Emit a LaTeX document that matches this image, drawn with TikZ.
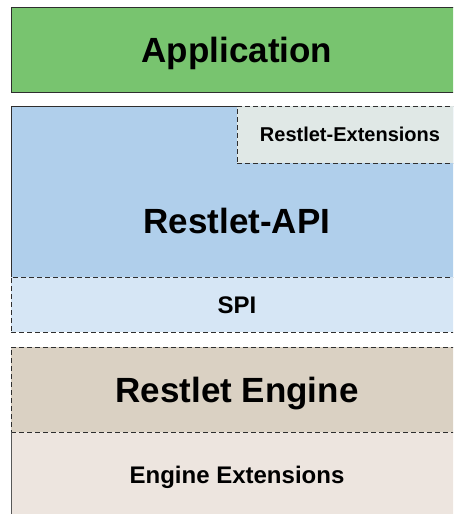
\documentclass[tikz,border=0pt]{standalone}
\usepackage{fontspec}
\setmainfont{Liberation Sans}
\definecolor{appgreen}{HTML}{78C46F}
\definecolor{apiblue}{HTML}{B0CFEB}
\definecolor{extgrey}{HTML}{E0E8E6}
\definecolor{spiblue}{HTML}{D6E6F5}
\definecolor{engtan}{HTML}{DAD1C3}
\definecolor{engext}{HTML}{EDE5DF}
\definecolor{edge}{HTML}{2E2E2E}
\tikzset{
  layer/.style={rectangle, inner sep=0pt, outer sep=0pt, anchor=north west, text depth=0pt},
  solidedge/.style={draw=edge, line width=1pt},
  dashededge/.style={draw=edge, line width=1pt, dash pattern=on 5pt off 3pt},
  caplabel/.style={inner sep=0pt, text depth=0pt},
  bigtext/.style={font=\bfseries\fontsize{35}{40}\selectfont, text height=25pt},
  midtext/.style={font=\bfseries\fontsize{24}{28}\selectfont, text height=17.2pt},
  smalltext/.style={font=\bfseries\fontsize{20}{24}\selectfont, text height=14.3pt}
}
\begin{document}
\begin{tikzpicture}[x=1pt,y=-1pt]
\useasboundingbox (0,0) rectangle (453,514);
\clip (0,0) rectangle (453,514);
% Application
\node[layer, solidedge, fill=appgreen, minimum width=452pt, minimum height=85pt,
  bigtext] (app) at (11,7) {Application};
% Restlet-API block
\node[layer, fill=apiblue, minimum width=452pt, minimum height=171pt] (api) at (11,106) {};
\node[layer, dashededge, fill=extgrey, minimum width=226pt, minimum height=57pt,
  smalltext] (ext) at (237,106) {Restlet-Extensions};
\node[layer, dashededge, fill=spiblue, minimum width=452pt, minimum height=55pt,
  midtext] (spi) at (11,277) {SPI};
\draw[solidedge] (spi.north west) -- (api.north west) -- (ext.north west);
\node[caplabel, bigtext] (apilabel) at (237,221) {Restlet-API};
% Engine block
\node[layer, fill=engext, minimum width=452pt, minimum height=100pt] (engx) at (11,432) {};
\node[caplabel, midtext] (engxlabel) at (237,475) {Engine Extensions};
\node[layer, dashededge, fill=engtan, minimum width=452pt, minimum height=85pt,
  bigtext] (eng) at (11,347) {Restlet Engine};
\draw[solidedge, draw=edge!80] (eng.south west) -- (engx.south west);
\end{tikzpicture}
\end{document}
